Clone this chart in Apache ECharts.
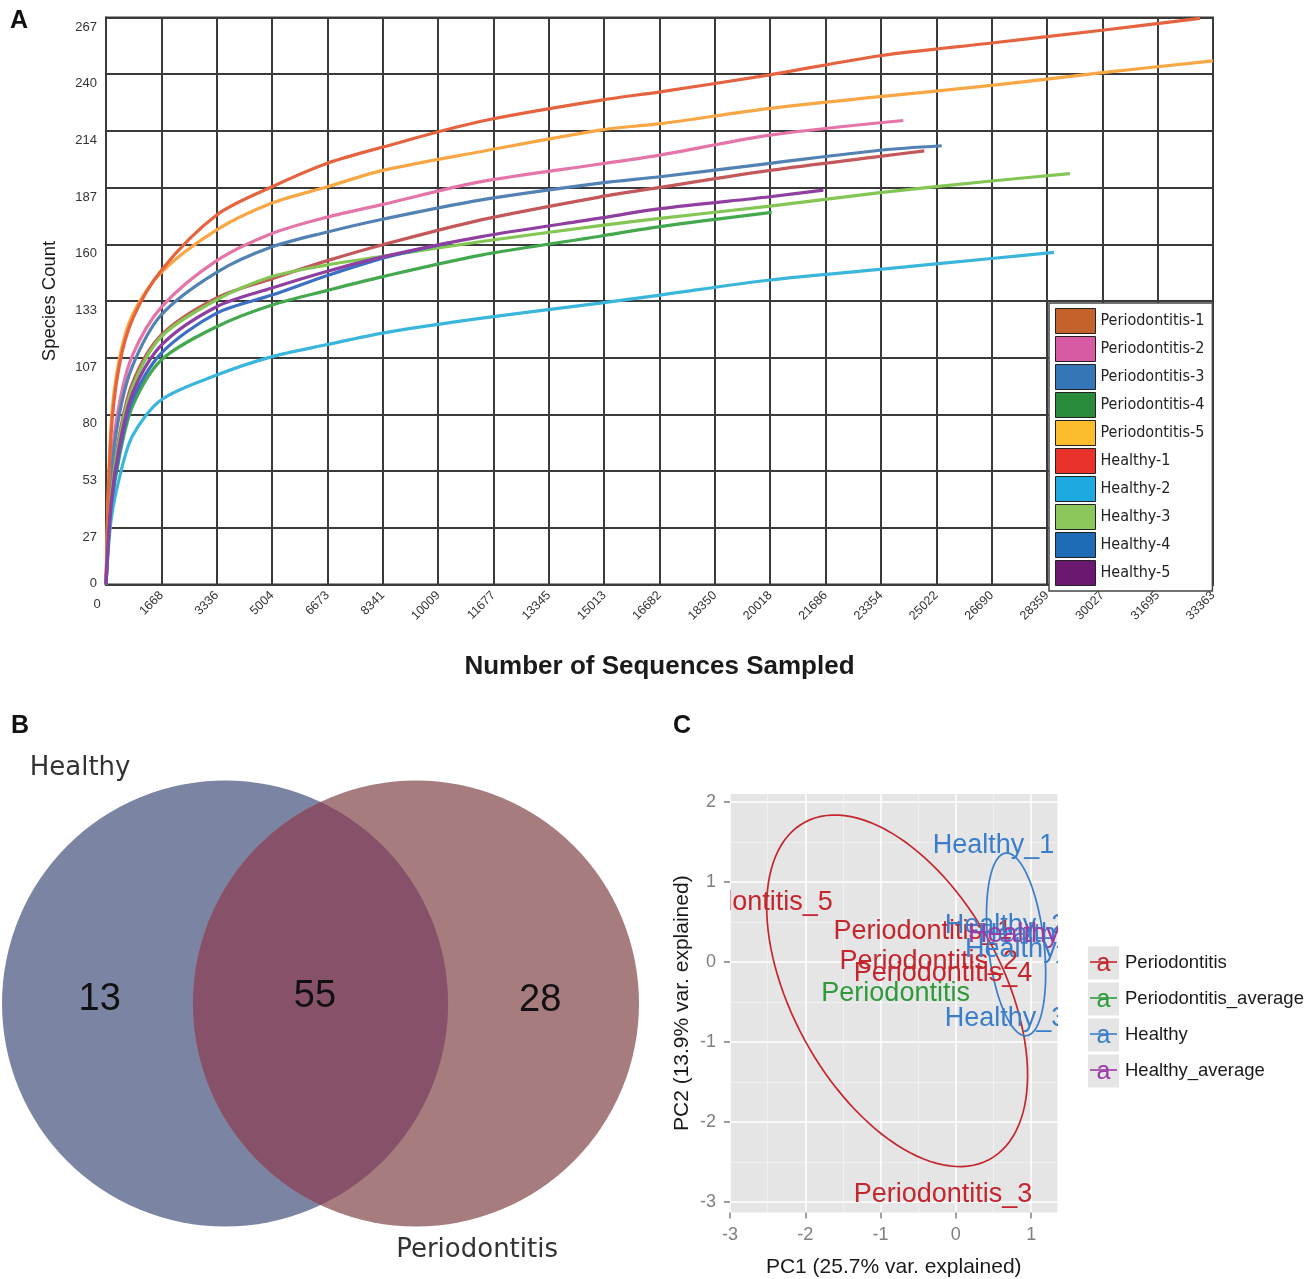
<!DOCTYPE html>
<html>
<head>
<meta charset="utf-8">
<script src="https://cdn.jsdelivr.net/npm/echarts@6/dist/echarts.min.js"></script>
<style>
html,body{margin:0;padding:0;background:#fff}
#c{width:1307px;height:1279px}
</style>
</head>
<body>
<div id="c"></div>
<script>
// ---------------- Panel A data : rarefaction curves ----------------
const depth = [0, 150, 400, 800, 1668, 3336, 5004, 6673, 8341, 11272, 14889, 16697, 20012, 23328, 26690, 30027];
const sampleNames = ['Periodontitis-1','Periodontitis-2','Periodontitis-3','Periodontitis-4','Periodontitis-5',
                     'Healthy-1','Healthy-2','Healthy-3','Healthy-4','Healthy-5'];
const countsP1 = [0, 40, 70, 95, 117.5, 135, 144, 152.5, 160, 171.6, 182.5, 187, 195, 201.6];
const countsP2 = [0, 55, 85, 108, 130.6, 152.5, 165.3, 173, 179, 189.6, 198, 202.2, 211.6];
const countsP3 = [0, 50, 80, 103, 127, 147, 159, 166, 172, 181, 189, 192, 198.3, 204.5];
const countsP4 = [0, 35, 60, 84, 105.7, 121.4, 131.6, 138.5, 145, 155, 164, 168.5];
const countsP5 = [0, 75, 106, 127, 147, 167, 179.6, 187.3, 195, 203.8, 214, 217, 224.2, 229.7, 235, 241];
const countsH1 = [0, 70, 103, 125, 148, 174, 187.3, 198.4, 206, 218, 228, 232, 240, 249, 255, 261];
const countsH2 = [0, 30, 50, 70, 87, 98.6, 107.3, 113, 118.4, 125.3, 132.5, 136.3, 143.4, 148.4, 153.5];
const countsH3 = [0, 40, 68, 93, 116.7, 134, 145, 150.5, 154.5, 161.4, 169, 172.4, 178.2, 184.5, 190];
const countsH4 = [0, 36, 62, 87, 109, 127.8, 136.3, 145.5, 153.7];
const countsH5 = [0, 38, 65, 90, 112.7, 130.8, 139.6, 147.5, 154.3, 163.7, 172.5, 177, 182.6];
const endDepth = [24662, 24030, 25186, 20063, 33363, 32970, 28570, 29050, 10368, 21620];
const endCount = [204.2, 218.5, 206.6, 175.2, 246.6, 266.6, 156.4, 193.5, 161, 185.7];
const xTickLabels = ['0','1668','3336','5004','6673','8341','10009','11677','13345','15013','16682',
                     '18350','20018','21686','23354','25022','26690','28359','30027','31695','33363'];
const yTickLabels = ['0','27','53','80','107','133','160','187','214','240','267'];

// ---------------- Panel B data : Venn ----------------
const vennSetNames = ['Healthy', 'Periodontitis'];
const vennRegionCounts = [13, 55, 28]; // Healthy only, shared, Periodontitis only

// ---------------- Panel C data : PCA ----------------
const pcaLabels = ['Periodontitis_1','Periodontitis_2','Periodontitis_3','Periodontitis_4','Periodontitis_5',
                   'Healthy_1','Healthy_2','Healthy_3','Healthy_4','Healthy_5','Periodontitis','Healthy'];
const pcaPC1 = [-0.44, -0.36, -0.17, -0.17, -2.82, 0.50, 0.66, 0.66, 0.93, 1.10, -0.80, 0.77];
const pcaPC2 = [0.375, 0.01, -2.91, -0.14, 0.74, 1.46, 0.46, -0.71, 0.15, 0.34, -0.39, 0.34];
const pcaGroup = [0, 0, 0, 0, 0, 2, 2, 2, 2, 2, 1, 3];
const groupNames = ['Periodontitis', 'Periodontitis_average', 'Healthy', 'Healthy_average'];
const pc1Ticks = [-3, -2, -1, 0, 1];
const pc2Ticks = [-3, -2, -1, 0, 1, 2];
const ellipseGroup = [0, 2];
const ellipseCX = [-0.78, 0.80];
const ellipseCY = [-0.36, 0.22];
const ellipseA = [2.44, 1.15];
const ellipseB = [1.37, 0.37];
const ellipseAngleDeg = [-58.3, -83];

// ---------------- styles ----------------
const FONT = '"Liberation Sans", Arial, Helvetica, sans-serif';
const lineColors = ['#c4575a','#e574a8','#5281b3','#43a84e','#f8a744','#e5643f','#3ab6dd','#83c654','#3b6fc4','#8e3fa0'];
const legendColors = ['#c4622b','#d65ba3','#3576b7','#2a8a3b','#fbbd2b','#e93229','#1fa9e1','#8bc75a','#1e6bb6','#6a1870'];
const groupColors = ['#c4262e', '#2e9a3a', '#3a7dc8', '#9a3ca6'];
const VENN = {
  centers: [-0.428, 0.428],
  countPos: [[-0.99, 0.02], [-0.025, 0.03], [0.985, 0.015]],
  namePos: [[-1.078, 1.063], [0.702, -1.113]],
  colors: ['#7b85a3', '#a67c7f', '#88516a']
};
const X_STEP = 33363 / 20;
const Y_STEP = 267 / 10;

const chart = echarts.init(document.getElementById('c'), null, {renderer: 'canvas'});

const curveCounts = [countsP1, countsP2, countsP3, countsP4, countsP5, countsH1, countsH2, countsH3, countsH4, countsH5];
const rareSeries = sampleNames.map((name, i) => ({
  type: 'line', name: name, xAxisIndex: 0, yAxisIndex: 0,
  showSymbol: false, symbol: 'none', smooth: 0.3,
  lineStyle: {width: 3.2, color: lineColors[i]}, itemStyle: {color: lineColors[i]},
  emphasis: {disabled: true},
  data: curveCounts[i].map((c, k) => [depth[k], c]).concat([[endDepth[i], endCount[i]]])
}));

const vennSeries = {
  type: 'custom', xAxisIndex: 1, yAxisIndex: 1, silent: true, clip: false,
  data: [[0, 0]],
  renderItem: function (params, api) {
    const c1 = api.coord([VENN.centers[0], 0]);
    const c2 = api.coord([VENN.centers[1], 0]);
    const r = api.size([1, 0])[0];
    const d = c2[0] - c1[0];
    const al = Math.acos((d / 2) / r);
    const lens = [];
    const N = 80;
    for (let k = 0; k <= N; k++) { const t = -al + 2 * al * k / N; lens.push([c1[0] + r * Math.cos(t), c1[1] + r * Math.sin(t)]); }
    for (let k = 0; k <= N; k++) { const t = Math.PI - al + 2 * al * k / N; lens.push([c2[0] + r * Math.cos(t), c2[1] + r * Math.sin(t)]); }
    const children = [
      {type: 'circle', shape: {cx: c1[0], cy: c1[1], r: r}, style: {fill: VENN.colors[0]}},
      {type: 'circle', shape: {cx: c2[0], cy: c2[1], r: r}, style: {fill: VENN.colors[1]}},
      {type: 'polygon', shape: {points: lens}, style: {fill: VENN.colors[2]}}
    ];
    vennRegionCounts.forEach((v, i) => {
      const p = api.coord(VENN.countPos[i]);
      children.push({type: 'text', x: p[0], y: p[1], style: {text: String(v), fill: '#111', fontSize: 38, fontFamily: FONT, align: 'center', verticalAlign: 'middle'}});
    });
    vennSetNames.forEach((n, i) => {
      const p = api.coord(VENN.namePos[i]);
      children.push({type: 'text', x: p[0], y: p[1], style: {text: n, fill: '#333', fontSize: 26, fontFamily: '"DejaVu Sans", sans-serif', align: 'center', verticalAlign: 'middle'}});
    });
    return {type: 'group', children: children};
  }
};

const ellipseSeries = {
  type: 'custom', xAxisIndex: 2, yAxisIndex: 2, silent: true, clip: true,
  data: ellipseCX.map((cx, i) => [cx, ellipseCY[i], i]),
  renderItem: function (params, api) {
    const i = api.value(2);
    const th = ellipseAngleDeg[i] * Math.PI / 180;
    const pts = [];
    const N = 120;
    for (let k = 0; k <= N; k++) {
      const t = 2 * Math.PI * k / N;
      const x = ellipseCX[i] + ellipseA[i] * Math.cos(th) * Math.cos(t) - ellipseB[i] * Math.sin(th) * Math.sin(t);
      const y = ellipseCY[i] + ellipseA[i] * Math.sin(th) * Math.cos(t) + ellipseB[i] * Math.cos(th) * Math.sin(t);
      pts.push(api.coord([x, y]));
    }
    return {type: 'polyline', shape: {points: pts}, style: {stroke: groupColors[ellipseGroup[i]], fill: null, lineWidth: 1.7}};
  }
};

const pcaTextSeries = {
  type: 'custom', xAxisIndex: 2, yAxisIndex: 2, silent: true, clip: true,
  data: pcaPC1.map((x, i) => [x, pcaPC2[i], i]),
  renderItem: function (params, api) {
    const i = api.value(2);
    const p = api.coord([api.value(0), api.value(1)]);
    return {type: 'text', x: p[0], y: p[1], style: {text: pcaLabels[i], fill: groupColors[pcaGroup[i]], fontSize: 27, fontFamily: FONT, align: 'center', verticalAlign: 'middle'}};
  }
};

// legend for panel C drawn as graphic keys
const pcaLegendGraphics = [];
groupNames.forEach((n, i) => {
  const cy = 963 + 36 * i;
  pcaLegendGraphics.push({type: 'rect', left: 1088, top: cy - 16.5, shape: {width: 31, height: 33}, style: {fill: '#e5e5e5'}, silent: true});
  pcaLegendGraphics.push({type: 'text', x: 1103.5, y: cy + 1, style: {text: 'a', fill: groupColors[i], fontSize: 25, fontFamily: FONT, align: 'center', verticalAlign: 'middle'}, silent: true});
  pcaLegendGraphics.push({type: 'line', shape: {x1: 1090, y1: cy - 1, x2: 1117, y2: cy - 1}, style: {stroke: groupColors[i], lineWidth: 1.6}, silent: true});
  pcaLegendGraphics.push({type: 'text', x: 1125, y: cy, style: {text: n, fill: '#1a1a1a', fontSize: 18.5, fontFamily: FONT, align: 'left', verticalAlign: 'middle'}, silent: true});
});

const intLabel = function (v) { return Math.abs(v - Math.round(v)) < 1e-6 ? String(Math.round(v)) : ''; };
const gridLineColor = '#3a3a3a';
const option = {
  animation: false,
  backgroundColor: '#fff',
  grid: [
    {left: 106, top: 17.5, width: 1107, height: 567, show: true, borderColor: gridLineColor, borderWidth: 2, backgroundColor: 'transparent'},
    {left: 2, top: 782, width: 637, height: 443},
    {left: 730, top: 794, width: 327.5, height: 418.4, show: true, backgroundColor: '#e5e5e5', borderWidth: 0}
  ],
  xAxis: [
    {
      gridIndex: 0, type: 'value', min: 0, max: 33363, interval: X_STEP,
      axisLine: {show: true, lineStyle: {color: gridLineColor, width: 2}},
      axisTick: {show: false},
      splitLine: {show: true, lineStyle: {color: gridLineColor, width: 2}},
      axisLabel: {rotate: 45, fontSize: 12.5, color: '#333', margin: 9, fontFamily: FONT,
        formatter: function (v) { const i = Math.round(v / X_STEP); return i === 0 ? '' : xTickLabels[i]; }},
      name: 'Number of Sequences Sampled', nameLocation: 'middle', nameGap: 69,
      nameTextStyle: {fontSize: 26, fontWeight: 'bold', color: '#1a1a1a', fontFamily: FONT}
    },
    {gridIndex: 1, type: 'value', min: -1.428, max: 1.428, show: false},
    {
      gridIndex: 2, type: 'value', min: -3, max: 1.35, interval: 1,
      axisLine: {show: false, onZero: false},
      axisTick: {show: true, length: 6, lineStyle: {color: '#7f7f7f', width: 1.5}, customValues: pc1Ticks},
      axisLabel: {color: '#7f7f7f', fontSize: 18, margin: 14, fontFamily: FONT, formatter: intLabel},
      splitLine: {show: true, lineStyle: {color: '#ffffff', width: 1.5}},
      minorTick: {show: false, splitNumber: 2},
      minorSplitLine: {show: true, lineStyle: {color: '#f3f3f3', width: 0.8}},
      name: 'PC1 (25.7% var. explained)', nameLocation: 'middle', nameGap: 44,
      nameTextStyle: {fontSize: 21, color: '#1a1a1a', fontFamily: FONT}
    }
  ],
  yAxis: [
    {
      gridIndex: 0, type: 'value', min: 0, max: 267, interval: Y_STEP,
      axisLine: {show: true, lineStyle: {color: gridLineColor, width: 2}},
      axisTick: {show: false},
      splitLine: {show: true, lineStyle: {color: gridLineColor, width: 2}},
      axisLabel: {fontSize: 13, color: '#333', margin: 9, fontFamily: FONT, verticalAlign: 'top', padding: [3, 0, 0, 0],
        formatter: function (v) { const i = Math.round(v / Y_STEP); return i === 0 ? '' : yTickLabels[i]; }},
      name: 'Species Count', nameLocation: 'middle', nameGap: 47,
      nameTextStyle: {fontSize: 18.5, color: '#1a1a1a', fontFamily: FONT}
    },
    {gridIndex: 1, type: 'value', min: -1, max: 1, show: false},
    {
      gridIndex: 2, type: 'value', min: -3.13, max: 2.1, splitNumber: 5,
      axisLine: {show: false, onZero: false},
      axisTick: {show: true, length: 6, lineStyle: {color: '#7f7f7f', width: 1.5}, customValues: pc2Ticks},
      axisLabel: {color: '#7f7f7f', fontSize: 18, margin: 14, fontFamily: FONT, formatter: intLabel},
      splitLine: {show: true, lineStyle: {color: '#ffffff', width: 1.5}},
      minorTick: {show: false, splitNumber: 2},
      minorSplitLine: {show: true, lineStyle: {color: '#f3f3f3', width: 0.8}},
      name: 'PC2 (13.9% var. explained)', nameLocation: 'middle', nameGap: 37,
      nameTextStyle: {fontSize: 21, color: '#1a1a1a', fontFamily: FONT}
    }
  ],
  legend: {
    orient: 'vertical', left: 1049, top: 303,
    itemWidth: 40, itemHeight: 25, itemGap: 2, itemStyle: {borderColor: '#222', borderWidth: 1},
    padding: [5, 8, 5, 6], backgroundColor: '#fff', borderColor: '#444', borderWidth: 1.5,
    icon: 'rect', selectedMode: false,
    textStyle: {fontFamily: '"DejaVu Sans Condensed", "DejaVu Sans", sans-serif', fontSize: 16, color: '#222'},
    data: sampleNames.map((n, i) => ({name: n, icon: 'rect', itemStyle: {color: legendColors[i], borderColor: '#222', borderWidth: 1}}))
  },
  graphic: [
    {type: 'text', left: 10, top: 9, style: {text: 'A', fontSize: 25, fontWeight: 'bold', fill: '#111', fontFamily: FONT}},
    {type: 'text', left: 11, top: 714, style: {text: 'B', fontSize: 25, fontWeight: 'bold', fill: '#111', fontFamily: FONT}},
    {type: 'text', left: 673, top: 714, style: {text: 'C', fontSize: 25, fontWeight: 'bold', fill: '#111', fontFamily: FONT}},
    {type: 'text', x: 97, y: 604, style: {text: xTickLabels[0], fontSize: 13, fill: '#333', fontFamily: FONT, align: 'center', verticalAlign: 'middle'}},
    {type: 'text', x: 97, y: 583, style: {text: yTickLabels[0], fontSize: 13, fill: '#333', fontFamily: FONT, align: 'right', verticalAlign: 'middle'}}
  ].concat(pcaLegendGraphics),
  series: rareSeries.concat([vennSeries, ellipseSeries, pcaTextSeries])
};
chart.setOption(option);
</script>
</body>
</html>
